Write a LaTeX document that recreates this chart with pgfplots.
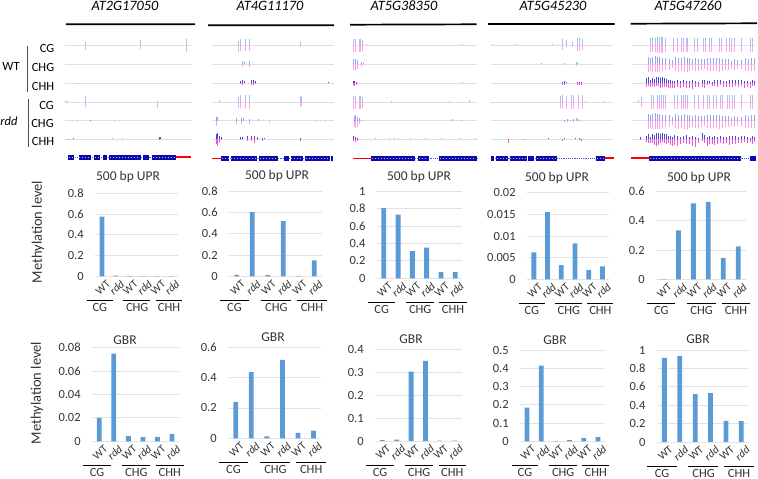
\documentclass[border=0pt]{standalone}
\usepackage{pgfplots}
\pgfplotsset{compat=1.18}
\usepackage{fontspec}
\setmainfont{Carlito}
\definecolor{barblue}{HTML}{5B9BD5}
\definecolor{gridgray}{HTML}{E2E2E2}
\definecolor{labgray}{HTML}{333333}
\definecolor{lightup}{HTML}{B4B8F2}
\definecolor{lightdn}{HTML}{FFA6EA}
\definecolor{midup}{HTML}{9EA2EE}
\definecolor{middn}{HTML}{FFA0E8}
\definecolor{darkup}{HTML}{4648D2}
\definecolor{darkdn}{HTML}{F850DC}
\definecolor{exon}{HTML}{0A0AAE}
\definecolor{trackline}{HTML}{DEDEE6}

\pgfplotsset{
  trk/.style={hide axis,scale only axis,width=758pt,height=30pt,xmin=0,xmax=758,
    ymin=-15,ymax=15,clip=false,anchor=south west,at={(0pt,#1pt)}},
  base/.style={color=trackline,line width=0.7pt,unbounded coords=jump},
  cgup/.style={ycomb,color=lightup,line width=0.95pt},
  cgdn/.style={ycomb,color=lightdn,line width=0.95pt},
  chgup/.style={ycomb,color=midup,line width=0.85pt},
  chgdn/.style={ycomb,color=middn,line width=0.85pt},
  chhup/.style={ycomb,color=darkup,line width=1pt},
  chhdn/.style={ycomb,color=darkdn,line width=1pt},
}
\newcommand\baselines{\addplot[base] coordinates {(65,0)(192,0)(192,nan)(212,0)(334,0)(334,nan)(353,0)(477,0)(477,nan)(491,0)(613,0)(613,nan)(632,0)(755,0)};}

% x0, x1, y of top grid line, y of zero, ymax, ticks, tick labels, values (image px for the frame)
\newcommand\barpanel[8]{%
  \pgfmathsetmacro\pw{#2-#1}\pgfmathsetmacro\ph{#4-#3}\pgfmathsetmacro\pb{479-#4}%
  \begin{axis}[
    scale only axis,anchor=south west,at={(#1pt,\pb pt)},width=\pw pt,height=\ph pt,
    xmin=-0.5,xmax=5.5,ymin=0,ymax=#5,clip=false,scaled y ticks=false,
    axis x line=bottom,axis y line=left,
    x axis line style={-,draw=gridgray,line width=0.8pt},
    y axis line style={draw=none},
    tick style={draw=none},
    ymajorgrids,grid style={gridgray,line width=0.8pt},
    xtick={0,1,2,3,4,5},
    xticklabels={WT,\textit{rdd},WT,\textit{rdd},WT,\textit{rdd}},
    x tick label style={rotate=42,anchor=north east,inner sep=0pt,yshift=-3.5pt,xshift=2.5pt,
      font=\fontsize{11}{11}\selectfont,text=labgray},
    ytick={#6},yticklabels={#7},
    y tick label style={font=\fontsize{12.5}{14}\selectfont,text=labgray,inner sep=0pt,xshift=-9pt},
  ]
  \addplot[ybar,bar width=4.8pt,fill=barblue,draw=none] coordinates {#8};
  \draw[black,line width=0.8pt] ([yshift=-24.5pt]axis cs:-1.1,0) -- ([yshift=-24.5pt]axis cs:0.8,0);
  \draw[black,line width=0.8pt] ([yshift=-24.5pt]axis cs:1.56,0) -- ([yshift=-24.5pt]axis cs:3.5,0);
  \draw[black,line width=0.8pt] ([yshift=-24.5pt]axis cs:3.9,0) -- ([yshift=-24.5pt]axis cs:5.8,0);
  \node[inner sep=0pt,font=\fontsize{12.5}{14}\selectfont,text=labgray] at ([yshift=-31.5pt]axis cs:-0.15,0) {CG};
  \node[inner sep=0pt,font=\fontsize{12.5}{14}\selectfont,text=labgray] at ([yshift=-31.5pt]axis cs:2.55,0) {CHG};
  \node[inner sep=0pt,font=\fontsize{12.5}{14}\selectfont,text=labgray] at ([yshift=-31.5pt]axis cs:4.85,0) {CHH};
  \end{axis}%
}

\begin{document}
\begin{tikzpicture}[x=1pt,y=1pt]
\path[use as bounding box] (0pt,0pt) rectangle (758pt,479pt);

% WT CG
\begin{axis}[trk=418.7]
\baselines
\addplot[cgup] coordinates {(85.3,3)(140.3,5)(186.3,6)
  (238.7,4)(240.7,6)(245.3,6)(249.3,6)(300.7,3)
  (353.7,6)(355.7,6)(359,6)(360.7,6)(362.7,5)(366,1)(462,1.5)
  (492,1)(515.7,1)(552.7,1)(562.7,6)(566,5)(572.7,3)(577.7,7)(579.3,7)(582,6)
  (650.3,7)(652.7,7)(655,7)(657.7,8)(659.3,8)(661,8)(662.7,8)(665,7)(673.7,7)(677,7)(681.7,7)(683.7,7)(686,7)(687.7,7)
  (694.3,7)(697.7,7)(703.3,7)(705.3,7)(709,7)(711,7)(719,7)(721.7,7)(726.7,7)(729,7)(731.7,7)(734.3,7)(741.7,7)(750,7)(752.3,7)};
\addplot[cgdn] coordinates {(85.3,-5)(140.3,-4)(186.3,-7)
  (238.7,-7)(240.7,-6)(245.3,-6)(249.3,-6)(300.7,-2)
  (353.7,-7)(355.7,-7)(359,-7)(360.7,-7)(362.7,-6)
  (562.7,-5)(566,-2)(572.7,-2)(577.7,-6)(579.3,-6)(582,-5)
  (650.3,-7)(652.7,-7)(655,-7)(657.7,-8)(659.3,-8)(661,-8)(662.7,-8)(665,-7)(673.7,-7)(677,-7)(681.7,-7)(683.7,-7)(686,-7)(687.7,-7)
  (694.3,-7)(697.7,-7)(703.3,-7)(705.3,-7)(709,-7)(711,-7)(719,-7)(721.7,-7)(726.7,-7)(729,-7)(731.7,-7)(734.3,-7)(741.7,-7)(750,-7)(752.3,-7)};
\end{axis}

% WT CHG
\begin{axis}[trk=399.7]
\baselines
\addplot[chgup] coordinates {(242,3)(244,2)(249.3,3)
  (353.5,5)(355,5)(357,4)(361,2)(363,1)
  (541,1)(564,1)(576,2)(578,1)
  (648,7)(650,6)(652,7)(655,8)(657,7)(659,7)(662,6)(665,6)(669,5)(672,4)(675,7)(678,6)(681,6)(684,7)(687,6)(689,6)
  (692,5)(695,6)(698,5)(701,5)(704,5)(707,6)(710,6)(713,6)(716,6)(719,6)(722,5)(725,5)(728,5)(731,3)(734,5)(737,4)(741,4)(745,6)(748,5)(751,6)(754,6)};
\addplot[chgdn] coordinates {(242,-3)(244,-1)(249.3,-3)
  (353.5,-6)(355,-7)(357,-5)(361,-3)(363,-1)
  (564,-1)(576,-2)
  (648,-8)(650,-7)(652,-8)(655,-8)(657,-8)(659,-8)(662,-7)(665,-6)(669,-6)(672,-4)(675,-7)(678,-8)(681,-7)(684,-8)(687,-8)(689,-7)
  (692,-6)(695,-7)(698,-7)(701,-6)(704,-5)(707,-7)(710,-7)(713,-7)(716,-7)(719,-8)(722,-7)(725,-6)(728,-6)(731,-5)(734,-6)(737,-5)(741,-5)(745,-7)(748,-7)(751,-7)(754,-7)};
\end{axis}

% WT CHH
\begin{axis}[trk=380.7]
\baselines
\addplot[cgup,line width=0.5pt] coordinates {(79,0.7)(462,1)};
\addplot[chhup] coordinates {(240,2)(242,3)(244,2)(251,3)(253,3)(255,2)
  (353,2)(354.5,2)(356,1.5)
  (562,1)(564,2)(566,1)(577,1)(579,1)(581,1)(328,1)
  (646,5)(648,6)(650,3)(652,5)(654,4)(656,6)(658,6)(660,5)(662,6)(664,5)(666,4)(668,3)(670,3)(672,2)(674,2)(677,3)(680,2)(683,3)(686,2)(689,2)(692,3)(695,2)(698,1)(702,3)(704,3)(707,2)(709,2)(712,1.5)(714,3)(717,3)(720,3)(723,2)(726,2)(729,3)(732,3)(735,3)(738,3)(741,3)(744,2)(747,2)(750,1.5)(752,3)(754,2)};
\addplot[chhdn] coordinates {(240,-1)(242,-2)(251,-1.5)(253,-2)(255,-1)
  (353,-2)(354.5,-2.5)(356,-2)
  (562,-1.5)(564,-2)(577,-2)(579,-2)(581,-2)
  (646,-4)(648,-3)(650,-4)(652,-3)(654,-4)(656,-3)(658,-3)(660,-5)(662,-4)(664,-4)(666,-4)(668,-5)(670,-5)(672,-5)(674,-5)(677,-4)(680,-5)(683,-4)(686,-5)(689,-5)(692,-6)(695,-4)(698,-4)(702,-4)(704,-5)(707,-2)(709,-1)(712,-3)(714,-3)(717,-4)(720,-2)(723,-4)(726,-4)(729,-4)(732,-4)(735,-3)(738,-4)(741,-3)(744,-5)(747,-4)(750,-5)(752,-3)(754,-3)};
\end{axis}

% rdd CG
\begin{axis}[trk=361.7]
\baselines
\addplot[cgup] coordinates {(65.5,1)(67,1.5)(85.3,6)(157,1)
  (219.7,2)(238.7,5)(240.7,7)(245.3,7)(249.3,7)(300.7,6)(301.7,5)
  (353.7,6)(355.7,6)(359,6)(360.7,6)(362.7,5)(391,1)(449,0.8)(469,2)
  (492,0.5)(560,6)(562.7,7)(566,6)(571,7)(573,7)(578,7)(582,7)(585,1)(604,1)
  (638,2)(641,5)(651,7)(653,7)(657,7)(659,7)(661,7)(663,7)(665,7)(674,7)(677,7)(681,7)(683,7)(685,7)(687,7)
  (694,7)(698,7)(703,7)(707,7)(709,7)(713,7)(716,7)(720,7)(722,7)(727,7)(729,7)(732,7)(734,7)(741,7)(750,7)(752,7)};
\addplot[cgdn] coordinates {(65.5,-1)(85.3,-5)(157,-6)
  (238.7,-6)(240.7,-6)(245.3,-7)(249.3,-7)(300.7,-5)(301.7,-4)
  (353.7,-7)(355.7,-7)(359,-7)(360.7,-7)(362.7,-6)
  (560,-6)(562.7,-7)(566,-7)(571,-7)(573,-7)(578,-7)(582,-7)
  (641,-5)(651,-7)(653,-7)(657,-7)(659,-7)(661,-7)(663,-7)(665,-7)(674,-7)(677,-7)(681,-7)(683,-7)(685,-7)(687,-7)
  (694,-7)(698,-7)(703,-7)(707,-7)(709,-7)(713,-7)(716,-7)(720,-7)(722,-7)(727,-7)(729,-7)(732,-7)(734,-7)(741,-7)(750,-7)(752,-7)};
\end{axis}

% rdd CHG
\begin{axis}[trk=343.2]
\baselines
\addplot[chgup] coordinates {(90,1)(216.5,4)(217,3.5)(236,3)(241.5,3)(243,3)(249,2)(258,2)(258.5,1)
  (354,5)(355.5,6)(357,4)(359,3)(361,1)(461,0.7)(452,1.5)
  (564,1)(567,2)(570,1)(573,2)(576,3)(578,2)
  (648,7)(650,6)(652,7)(655,8)(657,7)(659,7)(662,6)(665,6)(669,6)(672,4)(675,7)(678,6)(681,6)(684,7)(687,6)(689,6)
  (692,5)(695,6)(698,5)(701,5)(704,5)(707,6)(710,6)(713,6)(716,6)(719,6)(722,5)(725,5)(728,5)(731,3)(734,5)(737,4)(741,4)(745,6)(748,5)(751,6)(754,6)};
\addplot[chgdn] coordinates {(77,-1)(90,-1)(114,-1)(216.5,-5)(236,-3)(241.5,-3)(249,-3)(269,-2)(315,-1)(325,-1.5)
  (354,-6)(355.5,-7)(357,-6)(359,-3)
  (564,-1)(567,-1)(573,-1)
  (648,-8)(650,-7)(652,-8)(655,-8)(657,-8)(659,-8)(662,-7)(665,-6)(669,-6)(672,-4)(675,-7)(678,-8)(681,-7)(684,-8)(687,-8)(689,-7)
  (692,-6)(695,-7)(698,-7)(701,-6)(704,-5)(707,-7)(710,-7)(713,-7)(716,-7)(719,-8)(722,-7)(725,-6)(728,-6)(731,-5)(734,-6)(737,-5)(741,-5)(745,-7)(748,-7)(751,-7)(754,-7)};
\end{axis}

% rdd CHH
\begin{axis}[trk=324.7]
\baselines
\addplot[cgup,line width=0.6pt] coordinates {(73,1)(112,1)(122,1)(375,1)(389,1)(398,1)(410,1)(425,1)(441,1)(460,1)(475,1)(394,1)};
\addplot[chhup] coordinates {(73,1)(159,2.5)(160,2)(216,5)(217.5,6)(219,3)(221,2)(240,2)(242,2)(247,3)(251,3)(254,3)(257,2)(262,1)(264,1)(300,1.5)
  (353.5,3)(355,2.5)(357,1.5)
  (548,1)(564,1)(575,1)(579,1)
  (640,2)(646,3)(648,5)(650,2)(652,5)(654,4)(656,6)(658,6)(660,5)(662,6)(664,5)(666,5)(668,3)(670,3)(672,2)(674,4)(677,3)(680,2)(683,3)(686,4)(689,2)(692,3)(695,2)(698,1)(702,6)(704,4)(707,2)(709,3)(712,2)(714,3)(717,2)(720,3)(723,2)(726,2)(729,3)(732,3)(735,3)(738,2)(741,3)(744,3)(747,2)(750,1.5)(752,3)(754,2)};
\addplot[chhdn] coordinates {(68,-1)(159,-1)(216,-5)(217.5,-7)(219,-3)(221,-1)(240,-1)(247,-2)(251,-2)(254,-4)(257,-1)(262,-2)(300,-2)
  (353.5,-2)(355,-3)(357,-2)
  (508,-4)(524,-1)(562,-2)(580,-1)(581,-2)
  (640,-1)(646,-3)(648,-4)(650,-4)(652,-4)(654,-6)(656,-7)(658,-6)(660,-4)(662,-3)(664,-4)(666,-5)(668,-4)(670,-6)(672,-7)(674,-6)(677,-7)(680,-5)(683,-4)(686,-5)(689,-5)(692,-7)(695,-8)(698,-4)(702,-2)(704,-4)(707,-7)(709,-5)(712,-5)(714,-6)(717,-5)(720,-4)(723,-5)(726,-4)(729,-6)(732,-5)(735,-5)(738,-4)(741,-4)(744,-3)(747,-4)(750,-3)(752,-5)(754,-3)};
\end{axis}

% bars, 500 bp UPR
\barpanel{95}{178}{193.3}{276.3}{0.8}{0,0.2,0.4,0.6,0.8}{0,0.2,0.4,0.6,0.8}{(0,0.575)(1,0.006)(2,0.003)(3,0.002)(4,0.002)(5,0.002)}
\barpanel{229}{322}{191.3}{276.3}{0.8}{0,0.2,0.4,0.6,0.8}{0,0.2,0.4,0.6,0.8}{(0,0.014)(1,0.605)(2,0.01)(3,0.52)(4,0.005)(5,0.15)}
\barpanel{376.7}{462.3}{191}{278.3}{1}{0,0.2,0.4,0.6,0.8,1}{0,0.2,0.4,0.6,0.8,1}{(0,0.805)(1,0.73)(2,0.31)(3,0.35)(4,0.07)(5,0.07)}
\barpanel{527}{609.3}{192.7}{279.3}{0.02}{0,0.005,0.01,0.015,0.02}{0,0.005,0.01,0.015,0.02}{(0,0.0062)(1,0.0155)(2,0.0033)(3,0.0083)(4,0.0021)(5,0.003)}
\barpanel{656}{745.7}{191.7}{279.3}{0.6}{0,0.2,0.4,0.6}{0,0.2,0.4,0.6}{(0,0.001)(1,0.335)(2,0.52)(3,0.53)(4,0.145)(5,0.225)}

% bars, GBR
\barpanel{92}{179.3}{347.7}{441.3}{0.08}{0,0.02,0.04,0.06,0.08}{0,0.02,0.04,0.06,0.08}{(0,0.02)(1,0.075)(2,0.0045)(3,0.0035)(4,0.0038)(5,0.0062)}
\barpanel{228}{321.3}{347.3}{438.3}{0.6}{0,0.2,0.4,0.6}{0,0.2,0.4,0.6}{(0,0.238)(1,0.437)(2,0.012)(3,0.517)(4,0.035)(5,0.05)}
\barpanel{375}{461.7}{349.3}{441}{0.4}{0,0.1,0.2,0.3,0.4}{0,0.1,0.2,0.3,0.4}{(0,0.004)(1,0.006)(2,0.303)(3,0.35)(4,0.002)(5,0.002)}
\barpanel{520}{605}{350}{441.3}{0.5}{0,0.1,0.2,0.3,0.4,0.5}{0,0.1,0.2,0.3,0.4,0.5}{(0,0.185)(1,0.415)(2,0.002)(3,0.006)(4,0.018)(5,0.023)}
\barpanel{656.7}{749}{350}{442}{1}{0,0.2,0.4,0.6,0.8,1}{0,0.2,0.4,0.6,0.8,1}{(0,0.915)(1,0.935)(2,0.52)(3,0.53)(4,0.23)(5,0.228)}

% frame in image pixels: gene models, rules and all loose text
\begin{axis}[hide axis,scale only axis,anchor=south west,at={(0pt,0pt)},width=758pt,height=479pt,
  xmin=0,xmax=758,ymin=0,ymax=479,y dir=reverse,clip=false,unbounded coords=jump]
% black rules over each gene
\addplot[black,line width=1.7pt] coordinates {(66,24.3)(195,24.3)(195,nan)(208,25.3)(334,25.3)(334,nan)(350,24.7)(476.7,24.3)(476.7,nan)(488,24)(614.7,24)(614.7,nan)(630.7,23.7)(757,23.3)};
% introns
\addplot[exon!70,line width=0.7pt,dash pattern=on 1.2pt off 1pt] coordinates {(68,157.3)(176,157.3)(176,nan)(221,158)(333,158)(333,nan)(371,158)(476.7,158)(476.7,nan)(490.7,158)(604,158)(604,nan)(649,158)(756,158)};
% UTRs
\addplot[red,line width=1.2pt] coordinates {(176,157)(191,157)(191,nan)(212,158.3)(221,158.3)(221,nan)(353,158.3)(371,158.3)(371,nan)(604.7,158)(613.7,158)(613.7,nan)(631,158)(649,158)};
% exons
\addplot[exon,line width=5pt] coordinates {(68,157.3)(73.7,157.3)(73.7,nan)(78.7,157.3)(90.7,157.3)(90.7,nan)(94.3,157.3)(100,157.3)(100,nan)(102.7,157.3)(107,157.3)(107,nan)(109.3,157.3)(140.7,157.3)(140.7,nan)(143.3,157.3)(149.3,157.3)(149.3,nan)(152.3,157.3)(176,157.3)(176,nan)
  (221,158)(229.3,158)(229.3,nan)(230.7,158)(257.3,158)(257.3,nan)(259,158)(278.3,158)(278.3,nan)(284,158)(289.3,158)(289.3,nan)(291,158)(302.7,158)(302.7,nan)(305,158)(330,158)(330,nan)(330.7,158)(333.3,158)(333.3,nan)
  (371,158)(415,158)(415,nan)(418.3,158)(429,158)(429,nan)(439,158)(476.7,158)(476.7,nan)
  (490.7,158)(494,158)(494,nan)(496,158)(508,158)(508,nan)(509.7,158)(526.7,158)(526.7,nan)(528,158)(534,158)(534,nan)(536,158)(556.7,158)(556.7,nan)(595.7,158)(604.7,158)(604.7,nan)
  (649,158)(741.3,158)(741.3,nan)(750,158)(756,158)};
% the pale dots along the exons
\addplot[white!70!exon,line width=0.9pt,dash pattern=on 0.9pt off 2.1pt] coordinates {(69,157.3)(73,157.3)(73,nan)(79,157.3)(90,157.3)(90,nan)(95,157.3)(99,157.3)(99,nan)(110,157.3)(140,157.3)(140,nan)(153,157.3)(175,157.3)(175,nan)
  (222,158)(229,158)(229,nan)(231,158)(257,158)(257,nan)(260,158)(278,158)(278,nan)(291,158)(302,158)(302,nan)(306,158)(330,158)(330,nan)
  (372,158)(414,158)(414,nan)(419,158)(428,158)(428,nan)(440,158)(476,158)(476,nan)
  (497,158)(507,158)(507,nan)(510,158)(526,158)(526,nan)(537,158)(556,158)(556,nan)(597,158)(604,158)(604,nan)
  (650,158)(741,158)};

% gene names
\node[font=\itshape\fontsize{14.3}{15}\selectfont,text=black] at (axis cs:125,6) {AT2G17050};
\node[font=\itshape\fontsize{14.3}{15}\selectfont,text=black] at (axis cs:270,6) {AT4G11170};
\node[font=\itshape\fontsize{14.3}{15}\selectfont,text=black] at (axis cs:404,6) {AT5G38350};
\node[font=\itshape\fontsize{14.3}{15}\selectfont,text=black] at (axis cs:553,6) {AT5G45230};
\node[font=\itshape\fontsize{14.3}{15}\selectfont,text=black] at (axis cs:688,6) {AT5G47260};

% track row labels
\addplot[black!70,line width=1pt] coordinates {(28,45.5)(28,92)(28,nan)(28.7,99)(28.7,147)};
\node[font=\fontsize{12.5}{14}\selectfont] at (axis cs:11,66) {WT};
\node[font=\itshape\fontsize{12.5}{14}\selectfont] at (axis cs:9,121) {rdd};
\node[font=\fontsize{12.5}{14}\selectfont] at (axis cs:47,48) {CG};
\node[font=\fontsize{12.5}{14}\selectfont] at (axis cs:43,67) {CHG};
\node[font=\fontsize{12.5}{14}\selectfont] at (axis cs:43,86.5) {CHH};
\node[font=\fontsize{12.5}{14}\selectfont] at (axis cs:46.5,105) {CG};
\node[font=\fontsize{12.5}{14}\selectfont] at (axis cs:42.5,123) {CHG};
\node[font=\fontsize{12.5}{14}\selectfont] at (axis cs:43,141) {CHH};

% chart titles
\node[font=\fontsize{13.5}{15}\selectfont,text=labgray] at (axis cs:128,177) {500 bp UPR};
\node[font=\fontsize{13.5}{15}\selectfont,text=labgray] at (axis cs:277,176) {500 bp UPR};
\node[font=\fontsize{13.5}{15}\selectfont,text=labgray] at (axis cs:419,177) {500 bp UPR};
\node[font=\fontsize{13.5}{15}\selectfont,text=labgray] at (axis cs:557,178) {500 bp UPR};
\node[font=\fontsize{13.5}{15}\selectfont,text=labgray] at (axis cs:699,178) {500 bp UPR};
\node[font=\fontsize{13.5}{15}\selectfont,text=labgray] at (axis cs:125,340) {GBR};
\node[font=\fontsize{13.5}{15}\selectfont,text=labgray] at (axis cs:273,337) {GBR};
\node[font=\fontsize{13.5}{15}\selectfont,text=labgray] at (axis cs:411,339) {GBR};
\node[font=\fontsize{13.5}{15}\selectfont,text=labgray] at (axis cs:555,340) {GBR};
\node[font=\fontsize{13.5}{15}\selectfont,text=labgray] at (axis cs:698,339) {GBR};

% y titles
\node[rotate=90,font=\fontsize{14.5}{16}\selectfont,text=labgray] at (axis cs:38,232) {Methylation level};
\node[rotate=90,font=\fontsize{14.5}{16}\selectfont,text=labgray] at (axis cs:37,393) {Methylation level};
\end{axis}
\end{tikzpicture}
\end{document}
